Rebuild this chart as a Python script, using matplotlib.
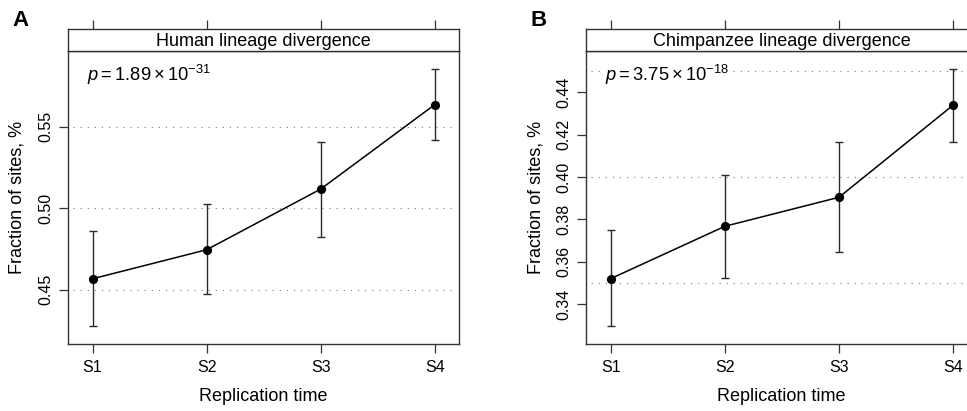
import numpy as np
import matplotlib
matplotlib.use("Agg")
import matplotlib.pyplot as plt

plt.rcParams['font.family'] = ['Liberation Sans', 'DejaVu Sans']
plt.rcParams['mathtext.fontset'] = 'custom'
plt.rcParams['mathtext.rm'] = 'Liberation Sans'
plt.rcParams['mathtext.it'] = 'Liberation Sans:italic'
plt.rcParams['mathtext.default'] = 'regular'

# Replication timing bins
stages = ["S1", "S2", "S3", "S4"]

# Human lineage: mean fraction and interval bounds
human_mean = [0.4567, 0.4745, 0.5117, 0.5635]
human_lo = [0.4277, 0.4472, 0.4826, 0.5417]
human_hi = [0.4862, 0.5027, 0.5405, 0.5854]

# Chimpanzee lineage
chimp_mean = [0.3520, 0.3767, 0.3904, 0.4339]
chimp_lo = [0.3296, 0.3524, 0.3646, 0.4167]
chimp_hi = [0.3748, 0.4009, 0.4166, 0.4510]

panels = [
    dict(letter="A", title="Human lineage divergence",
         ptext=r"$\mathit{p} = 1.89 \times 10^{-31}$",
         mean=human_mean, lo=human_lo, hi=human_hi,
         ylim=(0.4167, 0.5964), yticks=[0.45, 0.50, 0.55],
         ylabels=["0.45", "0.50", "0.55"], grid=[0.45, 0.50, 0.55]),
    dict(letter="B", title="Chimpanzee lineage divergence",
         ptext=r"$\mathit{p} = 3.75 \times 10^{-18}$",
         mean=chimp_mean, lo=chimp_lo, hi=chimp_hi,
         ylim=(0.3211, 0.4595), yticks=[0.34, 0.36, 0.38, 0.40, 0.42, 0.44],
         ylabels=["0.34", "0.36", "0.38", "0.40", "0.42", "0.44"],
         grid=[0.35, 0.40, 0.45]),
]

W, H = 967, 411
fig = plt.figure(figsize=(W / 100, H / 100), dpi=100)

# panel geometry in pixels
box_left = [68, 586.3]
box_w = 390.7
box_top, box_bot = 51, 344
strip_h = 22
letter_x = [12, 531]
spine_col = "#333333"

for i, p in enumerate(panels):
    l = box_left[i] / W
    b = (H - box_bot) / H
    w = box_w / W
    h = (box_bot - box_top) / H
    ax = fig.add_axes([l, b, w, h])
    strip = fig.add_axes([l, b + h, w, strip_h / H])

    x = np.arange(1, len(stages) + 1)
    mean = np.array(p["mean"])
    yerr = [mean - np.array(p["lo"]), np.array(p["hi"]) - mean]

    xlim = (0.785, 4.21)
    ax.set_xlim(xlim)
    ax.set_ylim(p["ylim"])

    ax.hlines(p["grid"], xlim[0] + 0.045, xlim[1] - 0.045, colors="#7a7a7a",
              linewidth=0.8, linestyles=(0, (1, 5.4)), zorder=1)

    ax.errorbar(x, mean, yerr=yerr, fmt="none", ecolor="#2a2a2a",
                elinewidth=1.0, capsize=3, capthick=1.0, zorder=2)
    ax.plot(x, mean, color="black", linewidth=1.1, marker="o",
            markersize=5.6, zorder=3)

    ax.set_xticks(x)
    ax.set_xticklabels(stages, fontsize=11.5)
    ax.set_yticks(p["yticks"])
    ax.set_yticklabels(p["ylabels"], fontsize=11.5, rotation=90, va="center")
    ax.tick_params(axis="both", direction="out", length=6.5, width=0.9,
                   color=spine_col)
    ax.tick_params(axis="x", pad=5)
    ax.tick_params(axis="y", pad=4)
    for s in ax.spines.values():
        s.set_color(spine_col)
        s.set_linewidth(1.0)

    ax.set_xlabel("Replication time", fontsize=13)
    ax.xaxis.set_label_coords(0.5, -0.18)
    ax.xaxis.label.set_va("center")
    ax.set_ylabel("Fraction of sites, %", fontsize=13)
    ax.yaxis.set_label_coords(-0.13, 0.5)
    ax.yaxis.label.set_va("center")

    ax.text(0.048, 0.897, p["ptext"], transform=ax.transAxes, fontsize=13.2,
            va="baseline", ha="left", zorder=4,
            bbox=dict(facecolor="white", edgecolor="none", pad=0))

    # strip with the panel title and the top ticks
    strip.set_xlim(xlim)
    strip.set_ylim(0, 1)
    strip.set_xticks(x)
    strip.set_yticks([])
    strip.tick_params(axis="x", top=True, bottom=False, labeltop=False,
                      labelbottom=False, direction="out", length=6.5,
                      width=0.9, color=spine_col)
    for s in strip.spines.values():
        s.set_color(spine_col)
        s.set_linewidth(1.0)
    strip.text(0.5, 0.45, p["title"], transform=strip.transAxes,
               ha="center", va="center", fontsize=13)

    fig.text(letter_x[i] / W, 1 - 21 / H, p["letter"], fontsize=16,
             fontweight="bold", ha="left", va="center")

fig.savefig("out.png", dpi=100)
